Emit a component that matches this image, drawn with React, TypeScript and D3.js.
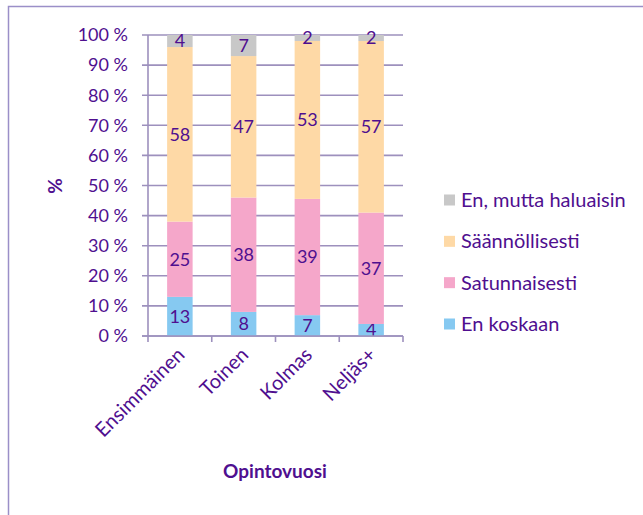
import React, { useRef, useEffect } from "react";
import * as d3 from "d3";

const categories = ["Ensimmäinen", "Toinen", "Kolmas", "Neljäs+"];
const seriesNames = ["En koskaan", "Satunnaisesti", "Säännöllisesti", "En, mutta haluaisin"];
const enKoskaan = [13, 8, 7, 4];
const satunnaisesti = [25, 38, 39, 37];
const saannollisesti = [58, 47, 53, 57];
const enMuttaHaluaisin = [4, 7, 2, 2];
const colors = ["#86c9f1", "#f5a7ca", "#fed9a6", "#c8c8c8"];
const yTicks = [0, 10, 20, 30, 40, 50, 60, 70, 80, 90, 100];

const textColor = "#4f0f8f";
const gridColor = "#9d90bd";
const font = "Lato, 'Open Sans', sans-serif";

export default function App() {
   const svgRef = useRef<SVGSVGElement>(null);

   useEffect(() => {
      const w = 643;
      const h = 515;
      const svg = d3.select(svgRef.current).attr("width", w).attr("height", h);
      svg.selectAll("*").remove();

      // frame
      svg.append("path")
         .attr("d", `M8.5,${h} L8.5,6.5 L${w},6.5`)
         .attr("fill", "none")
         .attr("stroke", "#9b8fc8")
         .attr("stroke-width", 1.5);

      const left = 148;
      const right = 403;
      const top = 35;
      const bottom = 336;

      const x = d3.scaleBand().domain(categories).range([left, right]).paddingInner(0.6).paddingOuter(0.3);
      const xTick = d3.scaleBand().domain(categories).range([left, right]);
      const y = d3.scaleLinear().domain([0, 100]).range([bottom, top]);

      // build normalized stack
      const table = categories.map((c, i) => {
         const vals = [enKoskaan[i], satunnaisesti[i], saannollisesti[i], enMuttaHaluaisin[i]];
         const total = d3.sum(vals);
         const row: any = { cat: c };
         seriesNames.forEach((s, j) => {
            row[s] = (vals[j] / total) * 100;
            row[s + "_raw"] = vals[j];
         });
         return row;
      });
      const stacked = d3.stack().keys(seriesNames)(table);

      // gridlines
      svg.append("g")
         .selectAll("line")
         .data(yTicks)
         .join("line")
         .attr("x1", left - 6)
         .attr("x2", right)
         .attr("y1", (d) => y(d))
         .attr("y2", (d) => y(d))
         .attr("stroke", gridColor)
         .attr("stroke-width", 1.6);

      // y tick labels
      svg.append("g")
         .selectAll("text")
         .data(yTicks)
         .join("text")
         .attr("x", 128)
         .attr("y", (d) => y(d))
         .attr("dy", "0.35em")
         .attr("text-anchor", "end")
         .attr("font-family", font)
         .attr("font-size", 18)
         .attr("fill", textColor)
         .text((d) => `${d} %`);

      // bars
      stacked.forEach((layer, j) => {
         svg.append("g")
            .selectAll("rect")
            .data(layer)
            .join("rect")
            .attr("x", (d: any) => x(d.data.cat)!)
            .attr("width", x.bandwidth())
            .attr("y", (d) => y(d[1]))
            .attr("height", (d) => y(d[0]) - y(d[1]))
            .attr("fill", colors[j]);

         svg.append("g")
            .selectAll("text")
            .data(layer)
            .join("text")
            .attr("x", (d: any) => x(d.data.cat)! + x.bandwidth() / 2)
            .attr("y", (d) => (y(d[0]) + y(d[1])) / 2)
            .attr("dy", "0.35em")
            .attr("text-anchor", "middle")
            .attr("font-family", font)
            .attr("font-size", 18)
            .attr("fill", textColor)
            .text((d: any) => d.data[seriesNames[j] + "_raw"]);
      });

      // axes lines
      svg.append("line")
         .attr("x1", left)
         .attr("x2", left)
         .attr("y1", top)
         .attr("y2", bottom)
         .attr("stroke", gridColor)
         .attr("stroke-width", 1.6);
      svg.append("line")
         .attr("x1", left - 6)
         .attr("x2", right)
         .attr("y1", bottom)
         .attr("y2", bottom)
         .attr("stroke", gridColor)
         .attr("stroke-width", 1.6);

      // x ticks
      const tickPos = categories.map((c) => xTick(c)!).concat([right]);
      svg.append("g")
         .selectAll("line")
         .data(tickPos)
         .join("line")
         .attr("x1", (d) => d)
         .attr("x2", (d) => d)
         .attr("y1", bottom)
         .attr("y2", bottom + 6)
         .attr("stroke", gridColor)
         .attr("stroke-width", 1.6);

      // x labels
      svg.append("g")
         .selectAll("text")
         .data(categories)
         .join("text")
         .attr("transform", (d) => `translate(${xTick(d)! + xTick.bandwidth() / 2 + 6},${bottom + 20}) rotate(-45)`)
         .attr("text-anchor", "end")
         .attr("font-family", font)
         .attr("font-size", 20)
         .attr("fill", textColor)
         .text((d) => d);

      // axis titles
      svg.append("text")
         .attr("x", 275)
         .attr("y", 478)
         .attr("text-anchor", "middle")
         .attr("font-family", font)
         .attr("font-weight", "bold")
         .attr("font-size", 19)
         .attr("fill", textColor)
         .text("Opintovuosi");

      svg.append("text")
         .attr("transform", "translate(62,186) rotate(-90)")
         .attr("text-anchor", "middle")
         .attr("font-family", font)
         .attr("font-weight", "bold")
         .attr("font-size", 19)
         .attr("fill", textColor)
         .text("%");

      // legend
      const legendItems = [3, 2, 1, 0];
      const legendY = d3.scalePoint().domain(legendItems.map(String)).range([200, 324]);
      const lg = svg.append("g");
      legendItems.forEach((j) => {
         const cy = legendY(String(j))!;
         lg.append("rect")
            .attr("x", 444)
            .attr("y", cy - 5.5)
            .attr("width", 11)
            .attr("height", 11)
            .attr("fill", colors[j]);
         lg.append("text")
            .attr("x", 461)
            .attr("y", cy)
            .attr("dy", "0.35em")
            .attr("font-family", font)
            .attr("font-size", 20)
            .attr("fill", textColor)
            .text(seriesNames[j]);
      });
   }, []);

   return (
      <div style={{ position: "absolute", left: 0, top: 0 }}>
         <svg ref={svgRef} style={{ display: "block" }}></svg>
      </div>
   );
}
